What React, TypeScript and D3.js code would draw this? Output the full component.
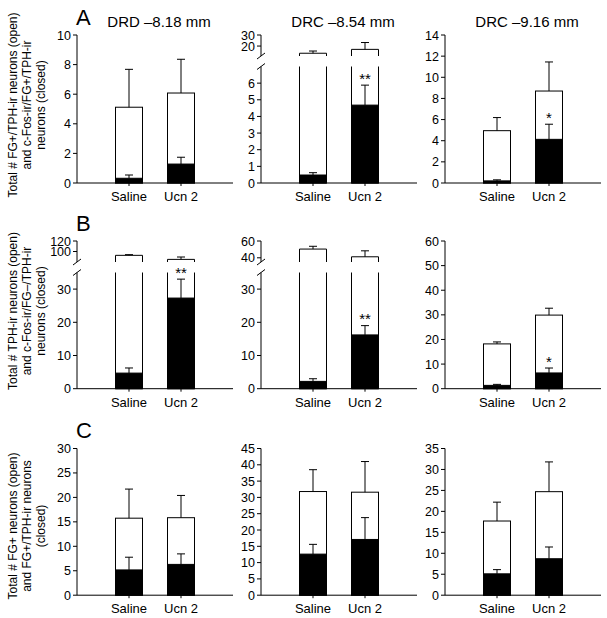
import React from "react";
import * as d3 from "d3";

const categories = ["Saline", "Ucn 2"];
const rowLetters = ["A", "B", "C"];
const regionTitles = ["DRD –8.18 mm", "DRC –8.54 mm", "DRC –9.16 mm"];
const yAxisTitles = [
  ["Total # FG+/TPH-ir neurons (open)", "and c-Fos-ir/FG+/TPH-ir", "neurons (closed)"],
  ["Total # TPH-ir neurons (open)", "and c-Fos-ir/FG–/TPH-ir", "neurons (closed)"],
  ["Total # FG+ neurons (open)", "and FG+/TPH-ir neurons", "(closed)"],
];

// Panels in row-major order: A1, A2, A3, B1, B2, B3, C1, C2, C3; each [Saline, Ucn 2]
const openMeans = [[5.12, 6.08], [13.5, 17], [4.95, 8.7], [92.7, 85], [50.4, 41.2], [18.2, 29.9], [15.75, 15.85], [31.8, 31.6], [17.7, 24.7]];
const openErrTops = [[7.68, 8.36], [15.5, 23.2], [6.19, 11.45], [94, 89.5], [53.7, 48.3], [19, 32.7], [21.7, 20.4], [38.5, 41], [22.2, 31.8]];
const closedMeans = [[0.32, 1.28], [0.48, 4.68], [0.2, 4.13], [4.7, 27.3], [2.2, 16.2], [1.35, 6.4], [5.17, 6.3], [12.6, 17.1], [5.1, 8.7]];
const closedErrTops = [[0.54, 1.74], [0.62, 5.88], [0.3, 5.56], [6.24, 33], [3.0, 19], [1.76, 8.4], [7.77, 8.45], [15.6, 23.8], [6.1, 11.5]];
const significance = [["", ""], ["", "**"], ["", "*"], ["", "**"], ["", "**"], ["", "*"], ["", ""], ["", ""], ["", ""]];

const lowerDomains = [[0, 10], [0, 7], [0, 14], [0, 35], [0, 35], [0, 60], [0, 30], [0, 45], [0, 35]];
const upperDomains: (number[] | null)[] = [null, [11, 30], null, [80, 120], [35, 60], null, null, null, null];
const lowerTicks = [
  [0, 2, 4, 6, 8, 10],
  [0, 1, 2, 3, 4, 5, 6],
  [0, 2, 4, 6, 8, 10, 12, 14],
  [0, 10, 20, 30],
  [0, 10, 20, 30],
  [0, 10, 20, 30, 40, 50, 60],
  [0, 5, 10, 15, 20, 25, 30],
  [0, 5, 10, 15, 20, 25, 30, 35, 40, 45],
  [0, 5, 10, 15, 20, 25, 30, 35],
];
const upperTicks: (number[] | null)[] = [null, [20, 30], null, [100, 120], [40, 60], null, null, null, null];

const W = 607;
const H = 618;
const FONT = "'Liberation Sans', Arial, Helvetica, sans-serif";
const colX0 = 77;
const colStep = 184;
const axisW = 156;
const rowTop = [35, 241, 448.5];
const rowBottom = [183, 388.7, 595.2];
const barW = 27;
const capW = 8;

function Panel({ r, c }: { r: number; c: number }) {
  const i = r * 3 + c;
  const x0 = colX0 + c * colStep;
  const top = rowTop[r];
  const bottom = rowBottom[r];
  const up = upperDomains[i];
  const broken = up != null;
  const upBottomY = top + 21;
  const lowTopY = top + 31.5;
  const lower = d3.scaleLinear().domain(lowerDomains[i]).range([bottom, broken ? lowTopY : top]);
  const upper = broken ? d3.scaleLinear().domain(up as number[]).range([upBottomY, top]) : null;
  const y = (v: number) => (upper && v >= (up as number[])[0] ? upper(v) : lower(v));
  const xs = d3.scaleLinear().domain([0, 3]).range([x0, x0 + axisW]);
  const lowMax = lowerDomains[i][1];

  const tickLabel = (t: number, yy: number, key: string) => (
    <g key={key}>
      <line x1={x0 - 4} x2={x0} y1={yy} y2={yy} stroke="#000" strokeWidth={1} />
      <text x={x0 - 6} y={yy} dy="0.36em" textAnchor="end" fontSize={12.5} fontFamily={FONT}>
        {t}
      </text>
    </g>
  );

  return (
    <g>
      {/* bars */}
      {categories.map((cat, k) => {
        const cx = xs(k + 1);
        const left = cx - barW / 2;
        const right = cx + barW / 2;
        const total = openMeans[i][k];
        const parts = [];
        if (broken && total > lowMax) {
          parts.push(
            <path key="lo" d={`M${left},${lowTopY}V${bottom}H${right}V${lowTopY}`} fill="#fff" stroke="#000" strokeWidth={1} />
          );
          parts.push(
            <path key="hi" d={`M${left},${upBottomY}V${y(total)}H${right}V${upBottomY}`} fill="#fff" stroke="#000" strokeWidth={1} />
          );
        } else {
          parts.push(
            <rect key="w" x={left} y={y(total)} width={barW} height={bottom - y(total)} fill="#fff" stroke="#000" strokeWidth={1} />
          );
        }
        const cm = closedMeans[i][k];
        parts.push(
          <rect key="b" x={left} y={y(cm)} width={barW} height={bottom - y(cm)} fill="#000" stroke="#000" strokeWidth={1} />
        );
        const eo = openErrTops[i][k];
        parts.push(
          <g key="eo" stroke="#000" strokeWidth={1}>
            <line x1={cx} x2={cx} y1={y(total)} y2={y(eo)} />
            <line x1={cx - capW / 2} x2={cx + capW / 2} y1={y(eo)} y2={y(eo)} />
          </g>
        );
        const ec = closedErrTops[i][k];
        parts.push(
          <g key="ec" stroke="#000" strokeWidth={1}>
            <line x1={cx} x2={cx} y1={y(cm)} y2={y(ec)} />
            <line x1={cx - capW / 2} x2={cx + capW / 2} y1={y(ec)} y2={y(ec)} />
          </g>
        );
        if (significance[i][k]) {
          parts.push(
            <text key="s" x={cx} y={y(ec) - 1.5} textAnchor="middle" fontSize={15} fontFamily={FONT}>
              {significance[i][k]}
            </text>
          );
        }
        parts.push(
          <line key="xt" x1={cx} x2={cx} y1={bottom} y2={bottom + 3} stroke="#000" strokeWidth={1} />
        );
        parts.push(
          <text key="cl" x={cx} y={bottom + 18} textAnchor="middle" fontSize={13} fontFamily={FONT}>
            {cat}
          </text>
        );
        return <g key={cat}>{parts}</g>;
      })}

      {/* x axis */}
      <line x1={x0} x2={x0 + axisW} y1={bottom} y2={bottom} stroke="#000" strokeWidth={1} />

      {/* y axis */}
      {broken ? (
        <g>
          <line x1={x0} x2={x0} y1={top} y2={upBottomY} stroke="#000" strokeWidth={1} />
          <line x1={x0 - 4} x2={x0 + 4} y1={upBottomY + 3} y2={upBottomY - 3} stroke="#000" strokeWidth={1} />
          <line x1={x0} x2={x0} y1={lowTopY} y2={bottom} stroke="#000" strokeWidth={1} />
          <line x1={x0 - 4} x2={x0 + 4} y1={lowTopY + 3} y2={lowTopY - 3} stroke="#000" strokeWidth={1} />
          {(upperTicks[i] as number[]).map((t) => tickLabel(t, (upper as any)(t), "u" + t))}
        </g>
      ) : (
        <line x1={x0} x2={x0} y1={top} y2={bottom} stroke="#000" strokeWidth={1} />
      )}
      {lowerTicks[i].map((t) => tickLabel(t, lower(t), "l" + t))}

      {/* region title */}
      {r === 0 && (
        <text x={x0 + 82} y={26.5} textAnchor="middle" fontSize={15} fontFamily={FONT}>
          {regionTitles[c]}
        </text>
      )}
    </g>
  );
}

const yTitleCenters = [105, 311, 526];

export default function App() {
  return (
    <svg width={W} height={H} style={{ position: "absolute", left: 0, top: 0, background: "#fff" }}>
      <rect x={0} y={0} width={W} height={H} fill="#fff" />
      {[0, 1, 2].map((r) => (
        <g key={r}>
          <text x={76} y={rowTop[r] - 10.5} fontSize={22} fontFamily={FONT}>
            {rowLetters[r]}
          </text>
          <g transform={`translate(0,${yTitleCenters[r]}) rotate(-90)`}>
            {yAxisTitles[r].map((line, j) => (
              <text key={j} x={0} y={16.5 + j * 14} textAnchor="middle" fontSize={12} fontFamily={FONT}>
                {line}
              </text>
            ))}
          </g>
          {[0, 1, 2].map((c) => (
            <Panel key={c} r={r} c={c} />
          ))}
        </g>
      ))}
    </svg>
  );
}
